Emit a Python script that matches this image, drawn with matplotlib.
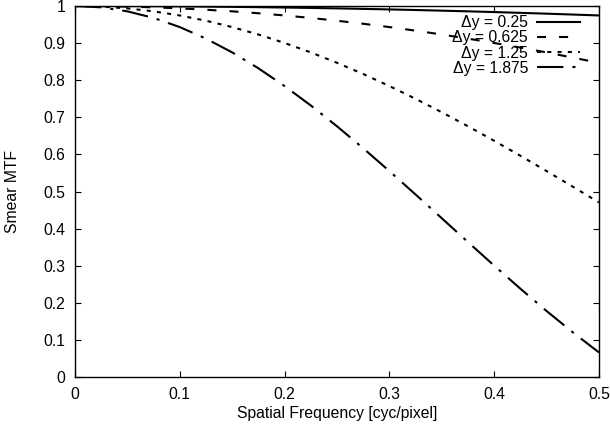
import matplotlib
matplotlib.use("Agg")
import matplotlib.pyplot as plt

plt.rcParams['font.family'] = ['Liberation Sans', 'DejaVu Sans']
plt.rcParams['lines.scale_dashes'] = False

freq = [0.0, 0.025, 0.05, 0.075, 0.1, 0.125, 0.15, 0.175, 0.2, 0.225, 0.25,
        0.275, 0.3, 0.325, 0.35, 0.375, 0.4, 0.425, 0.45, 0.475, 0.5]
mtf_025 = [1.0, 0.99994, 0.99974, 0.99942, 0.99897, 0.9984, 0.99769, 0.99685, 0.99589, 0.9948, 0.99359,
           0.99224, 0.99077, 0.98918, 0.98745, 0.98561, 0.98363, 0.98153, 0.97931, 0.97696, 0.9745]
mtf_0625 = [1.0, 0.9996, 0.9984, 0.99639, 0.99359, 0.98999, 0.98561, 0.98044, 0.9745, 0.9678, 0.96032,
            0.95211, 0.94317, 0.9335, 0.92313, 0.912, 0.9003, 0.88791, 0.8749, 0.8608, 0.847]
mtf_125 = [1.0, 0.9984, 0.99359, 0.98561, 0.9745, 0.96032, 0.94317, 0.92313, 0.9003, 0.8749, 0.8469,
           0.8167, 0.7842, 0.7498, 0.7136, 0.6758, 0.6366, 0.5963, 0.555, 0.513, 0.4705]
mtf_1875 = [1.0, 0.99639, 0.98561, 0.9678, 0.94317, 0.912, 0.8749, 0.8321, 0.7842, 0.7319, 0.6758,
            0.6166, 0.555, 0.4918, 0.4278, 0.3636, 0.3001, 0.238, 0.1778, 0.1204, 0.0662]
labels = ['Δy = 0.25', 'Δy = 0.625', 'Δy = 1.25', 'Δy = 1.875']
xticks = [0, 0.1, 0.2, 0.3, 0.4, 0.5]
yticks = [0, 0.1, 0.2, 0.3, 0.4, 0.5, 0.6, 0.7, 0.8, 0.9, 1]

fs = 11.3
fig = plt.figure(figsize=(6.1, 4.24), dpi=100)
ax = fig.add_axes([75/610, 1 - 377/424, (599-75)/610, (377-6)/424])

lw = 1.5
ax.plot(freq, mtf_025, color='black', lw=lw, label=labels[0])
ax.plot(freq, mtf_0625, color='black', lw=lw, dashes=(6.5, 9.4), label=labels[1])
ax.plot(freq, mtf_125, color='black', lw=lw, dashes=(2.9, 4.5), label=labels[2])
ax.plot(freq, mtf_1875, color='black', lw=lw, dashes=(19, 6.5, 2.2, 6.5), label=labels[3])

ax.set_xlim(0, 0.5)
ax.set_ylim(0, 1)
ax.set_xticks(xticks)
ax.set_xticklabels([f'{t:g}' for t in xticks])
ax.set_yticks(yticks)
ax.set_yticklabels([f'{t:g}' for t in yticks])
ax.tick_params(direction='in', length=4, width=0.8, top=True, right=True,
               labelsize=fs, pad=7)
for s in ax.spines.values():
    s.set_linewidth(1.0)

ax.set_xlabel('Spatial Frequency [cyc/pixel]', fontsize=fs, labelpad=3)
ax.set_ylabel('Smear MTF', fontsize=fs, labelpad=16.5)

leg = ax.legend(loc='upper right', bbox_to_anchor=((580-75)/524, 1 - 9/371), frameon=False,
                markerfirst=False, fontsize=fs, handlelength=2.75, handletextpad=0.56,
                labelspacing=0.02, borderpad=0.0, borderaxespad=0.0)
for t in leg.get_texts():
    t.set_ha('right')

fig.savefig('out.png', dpi=100)
